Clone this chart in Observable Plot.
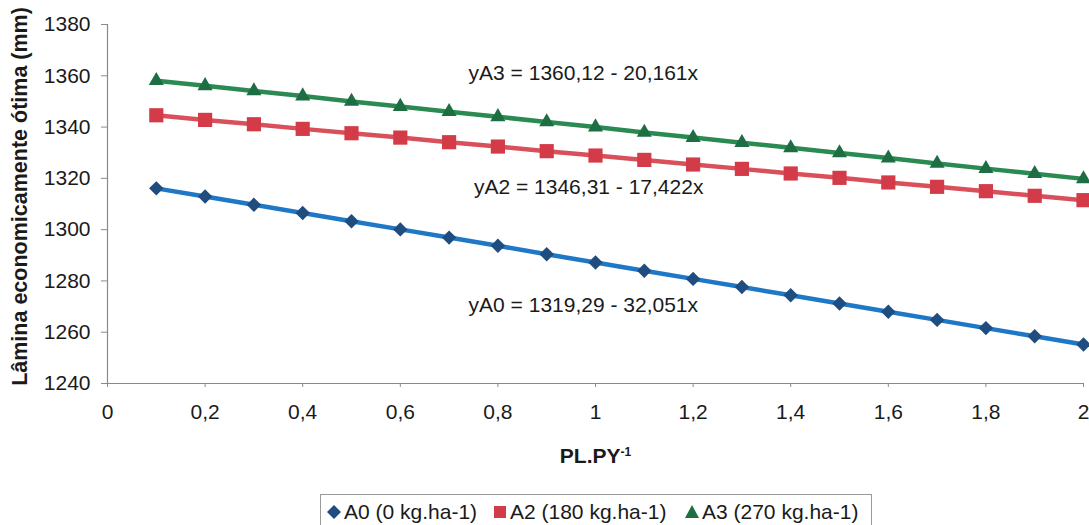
<!DOCTYPE html>
<html>
<head>
<meta charset="utf-8">
<script src="https://cdn.jsdelivr.net/npm/d3@7"></script>
<script src="https://cdn.jsdelivr.net/npm/@observablehq/plot@0.6"></script>
<style>
  html, body { margin: 0; padding: 0; background: #fff; }
  body { width: 1089px; height: 525px; overflow: hidden; position: relative; font-family: "Liberation Sans", Arial, sans-serif; }
  #legend {
    position: absolute; left: 320px; top: 494px; width: 552px; height: 40px;
    border: 1px solid #9a9a9a; box-sizing: border-box; color: #1a1a1a; font-size: 21px;
  }
  #legend .item { position: absolute; top: 5px; display: flex; align-items: center; height: 24px; white-space: nowrap; }
  #legend svg { margin-right: 3px; }
</style>
</head>
<body>
<div id="chart"></div>
<div id="legend"></div>
<script>
// PL.PY^-1 price ratio on the x axis
const xValues = [0.1, 0.2, 0.3, 0.4, 0.5, 0.6, 0.7, 0.8, 0.9, 1.0,
                 1.1, 1.2, 1.3, 1.4, 1.5, 1.6, 1.7, 1.8, 1.9, 2.0];

// Economically optimal irrigation depth (mm) for each nitrogen level
const a0 = [1316.1, 1312.9, 1309.7, 1306.5, 1303.3, 1300.1, 1296.9, 1293.7, 1290.4, 1287.2,
            1284.0, 1280.8, 1277.6, 1274.4, 1271.2, 1268.0, 1264.8, 1261.6, 1258.4, 1255.2];
const a2 = [1344.6, 1342.8, 1341.1, 1339.3, 1337.6, 1335.9, 1334.1, 1332.4, 1330.6, 1328.9,
            1327.2, 1325.4, 1323.7, 1321.9, 1320.2, 1318.4, 1316.7, 1315.0, 1313.2, 1311.5];
const a3 = [1358.1, 1356.1, 1354.1, 1352.1, 1350.0, 1348.0, 1346.0, 1344.0, 1342.0, 1340.0,
            1337.9, 1335.9, 1333.9, 1331.9, 1329.9, 1327.9, 1325.8, 1323.8, 1321.8, 1319.8];

const seriesNames = ["A0 (0 kg.ha-1)", "A2 (180 kg.ha-1)", "A3 (270 kg.ha-1)"];
const seriesValues = [a0, a2, a3];

// Fitted regression equations and where they sit (data units)
const equations = ["yA3 = 1360,12 - 20,161x", "yA2 = 1346,31 - 17,422x", "yA0 = 1319,29 - 32,051x"];
const equationX = [0.975, 0.986, 0.975];
const equationY = [1360.9, 1316.4, 1270.4];

const xTicks = [0, 0.2, 0.4, 0.6, 0.8, 1, 1.2, 1.4, 1.6, 1.8, 2];
const yTicks = [1240, 1260, 1280, 1300, 1320, 1340, 1360, 1380];
const xDomain = [0, 2];
const yDomain = [1240, 1380];

// Styling per series
const lineColors = ["#1f78c6", "#d9505a", "#2a8a52"];
const markerColors = ["#1f4d80", "#d33b48", "#1d6e42"];
const symbols = ["diamond2", "square", "triangle"];
const markerR = [6.5, 8, 5.6];

const rows = seriesNames.flatMap((name, i) =>
  xValues.map((x, j) => ({series: name, x, y: seriesValues[i][j]})));
const eqRows = equations.map((text, i) => ({text, x: equationX[i], y: equationY[i]}));

const fmtX = d => String(+d.toFixed(1)).replace(".", ",");
const font = "'Liberation Sans', Arial, sans-serif";

const marks = [
  Plot.ruleX([xDomain[0]], {stroke: "#8a8a8a", strokeWidth: 1.2}),
  Plot.ruleY([yDomain[0]], {stroke: "#8a8a8a", strokeWidth: 1.2}),
  Plot.axisY({ticks: yTicks, tickSize: 6, tickPadding: 11, tickFormat: d => String(d),
              label: null, stroke: "#8a8a8a", fill: "#1a1a1a"}),
  Plot.axisX({ticks: xTicks, tickSize: 4, tickPadding: 17, tickFormat: fmtX,
              label: null, stroke: "#8a8a8a", fill: "#1a1a1a"}),
];

seriesNames.forEach((name, i) => {
  const data = rows.filter(r => r.series === name);
  marks.push(Plot.line(data, {x: "x", y: "y", stroke: lineColors[i], strokeWidth: 4.5}));
});
seriesNames.forEach((name, i) => {
  const data = rows.filter(r => r.series === name);
  marks.push(Plot.dot(data, {x: "x", y: "y", symbol: () => symbols[i], r: markerR[i],
                             fill: markerColors[i], stroke: "none"}));
});

marks.push(
  Plot.text(eqRows, {x: "x", y: "y", text: "text", textAnchor: "middle", lineAnchor: "middle",
                     fill: "#1a1a1a", fontSize: 21}),
  Plot.text(["Lâmina economicamente ótima (mm)"], {frameAnchor: "left", rotate: -90, dx: -87, dy: -7.5,
                     lineAnchor: "middle", textAnchor: "middle", fontWeight: "bold", fontSize: 21.5, fill: "#1a1a1a"}),
  Plot.text(["PL.PY"], {frameAnchor: "bottom", dy: 72.5, lineAnchor: "middle", textAnchor: "middle",
                     fontWeight: "bold", fontSize: 21, fill: "#1a1a1a"})
);

const chart = Plot.plot({
  width: 1089,
  height: 490,
  marginLeft: 107,
  marginRight: 6,
  marginTop: 24,
  marginBottom: 107,
  x: {domain: xDomain},
  y: {domain: yDomain},
  style: {fontFamily: font, fontSize: "21px", background: "#fff", overflow: "visible"},
  marks
});

// Superscript "-1" on the x axis title
d3.select(chart).selectAll("text").filter(function() { return this.textContent === "PL.PY"; })
  .each(function() {
    const t = d3.select(this);
    t.append("tspan").attr("dy", "-0.55em").attr("font-size", "12px").text("-1");
  });

document.getElementById("chart").appendChild(chart);

// Legend below the chart
const legend = d3.select("#legend");
const itemLeft = [6, 172, 364];
const swatchPaths = [
  "M7,0 L14,7 L7,14 L0,7 Z",
  "M1,1 H13 V13 H1 Z",
  "M7,0 L14,13 L0,13 Z"
];
seriesNames.forEach((name, i) => {
  const item = legend.append("div").attr("class", "item").style("left", itemLeft[i] + "px");
  const sw = item.append("svg").attr("width", 14).attr("height", 14);
  sw.append("path").attr("d", swatchPaths[i]).attr("fill", markerColors[i]);
  item.append("span").text(name);
});
</script>
</body>
</html>
